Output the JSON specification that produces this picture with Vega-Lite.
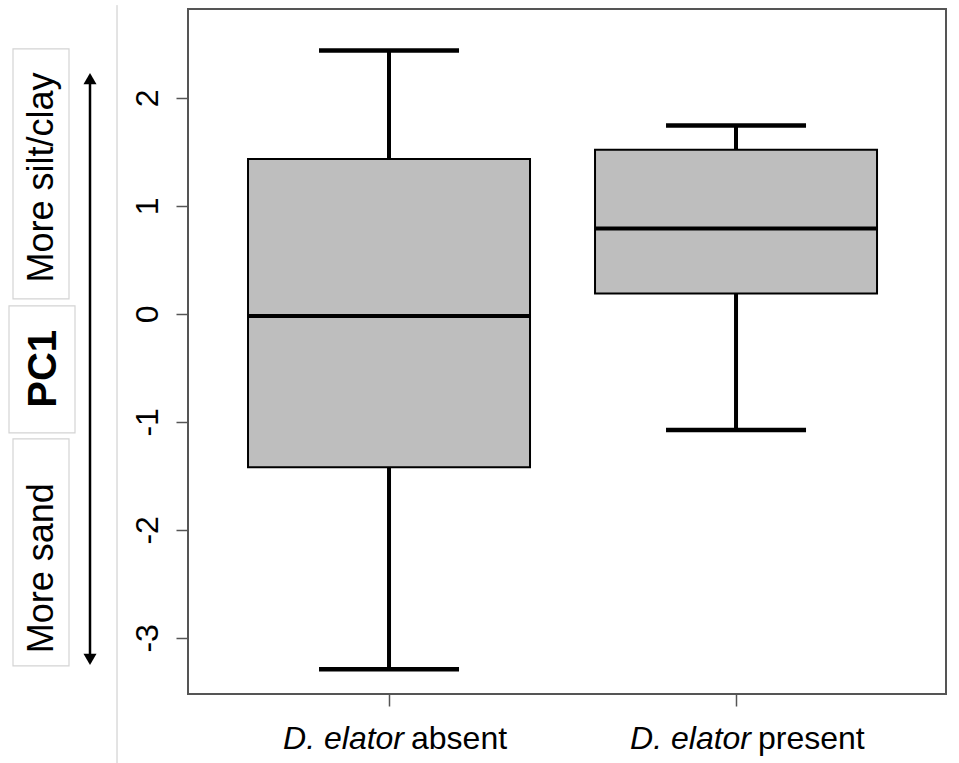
{
  "$schema": "https://vega.github.io/schema/vega-lite/v6.json",
  "background": "white",
  "padding": {"left": 0, "top": 4, "right": 10, "bottom": 0},
  "bounds": "flush",
  "spacing": 70,
  "config": {"font": "Liberation Sans", "view": {"stroke": null}},
  "datasets": {
    "boxes": [
      {"group": "absent", "lower": -3.29, "q1": -1.42, "median": -0.02, "q3": 1.435, "upper": 2.44},
      {"group": "present", "lower": -1.075, "q1": 0.19, "median": 0.79, "q3": 1.52, "upper": 1.745}
    ],
    "notes": [
      {"note": "More silt/clay", "kind": "side", "mid": 1.264, "lo": 0.139, "hi": 2.454},
      {"note": "PC1", "kind": "center", "mid": -0.509, "lo": -1.102, "hi": 0.074},
      {"note": "More sand", "kind": "side", "mid": -2.356, "lo": -3.259, "hi": -1.157}
    ],
    "labels": [
      {"group": "absent", "species": "D. elator", "state": "absent"},
      {"group": "present", "species": "D. elator", "state": "present"}
    ]
  },
  "hconcat": [
    {
      "width": 118,
      "height": 685,
      "view": {"stroke": null},
      "layer": [
        {
          "data": {"values": [{"a": 1}]},
          "mark": {"type": "rule", "color": "#c8c8c8", "strokeWidth": 1},
          "encoding": {
            "x": {"datum": 117, "type": "quantitative", "scale": {"domain": [0, 118], "nice": false, "zero": false}, "axis": null},
            "y": {"datum": 2.86, "type": "quantitative", "scale": {"domain": [-3.52, 2.824], "nice": false, "zero": false}, "axis": null},
            "y2": {"datum": -4.17}
          }
        },
        {
          "data": {"name": "notes"},
          "transform": [{"filter": "datum.kind === 'side'"}],
          "mark": {"type": "rect", "fill": "white", "stroke": "#d4d4d4", "strokeWidth": 1.2},
          "encoding": {
            "x": {"datum": 13, "type": "quantitative"},
            "x2": {"datum": 69},
            "y": {"field": "hi", "type": "quantitative"},
            "y2": {"field": "lo"}
          }
        },
        {
          "data": {"name": "notes"},
          "transform": [{"filter": "datum.kind === 'center'"}],
          "mark": {"type": "rect", "fill": "white", "stroke": "#d4d4d4", "strokeWidth": 1.2},
          "encoding": {
            "x": {"datum": 9, "type": "quantitative"},
            "x2": {"datum": 75},
            "y": {"field": "hi", "type": "quantitative"},
            "y2": {"field": "lo"}
          }
        },
        {
          "data": {"name": "notes"},
          "transform": [{"filter": "datum.kind === 'side'"}],
          "mark": {"type": "text", "angle": 270, "align": "center", "baseline": "middle", "fontSize": 36, "color": "black"},
          "encoding": {
            "x": {"datum": 42, "type": "quantitative"},
            "y": {"field": "mid", "type": "quantitative"},
            "text": {"field": "note"}
          }
        },
        {
          "data": {"name": "notes"},
          "transform": [{"filter": "datum.kind === 'center'"}],
          "mark": {"type": "text", "angle": 270, "align": "center", "baseline": "middle", "fontSize": 40, "fontWeight": "bold", "color": "black"},
          "encoding": {
            "x": {"datum": 44, "type": "quantitative"},
            "y": {"field": "mid", "type": "quantitative"},
            "text": {"field": "note"}
          }
        },
        {
          "data": {"values": [{"a": 1}]},
          "mark": {"type": "rule", "color": "black", "strokeWidth": 2.5},
          "encoding": {
            "x": {"datum": 90, "type": "quantitative"},
            "y": {"datum": 2.15, "type": "quantitative"},
            "y2": {"datum": -3.17}
          }
        },
        {
          "data": {"values": [{"a": 1}]},
          "mark": {"type": "point", "shape": "triangle-up", "filled": true, "color": "black", "size": 170, "opacity": 1},
          "encoding": {
            "x": {"datum": 90, "type": "quantitative"},
            "y": {"datum": 2.18, "type": "quantitative"}
          }
        },
        {
          "data": {"values": [{"a": 1}]},
          "mark": {"type": "point", "shape": "triangle-down", "filled": true, "color": "black", "size": 170, "opacity": 1},
          "encoding": {
            "x": {"datum": 90, "type": "quantitative"},
            "y": {"datum": -3.2, "type": "quantitative"}
          }
        }
      ]
    },
    {
      "width": 758,
      "height": 685,
      "view": {"stroke": "#555555", "strokeWidth": 2},
      "encoding": {
        "x": {
          "field": "group",
          "type": "nominal",
          "sort": ["absent", "present"],
          "scale": {"domain": ["absent", "present"], "paddingInner": 0, "paddingOuter": 0.0922, "align": 0.43},
          "axis": {"title": null, "labels": false, "domain": false, "ticks": true, "tickSize": 12, "tickColor": "#555555", "tickWidth": 1.5, "grid": false}
        }
      },
      "layer": [
        {
          "data": {"name": "boxes"},
          "mark": {"type": "rule", "color": "black", "strokeWidth": 4},
          "encoding": {
            "y": {
              "field": "lower",
              "type": "quantitative",
              "scale": {"domain": [-3.52, 2.824], "nice": false, "zero": false},
              "axis": {"title": null, "values": [-3, -2, -1, 0, 1, 2], "labelExpr": "'' + datum.value", "grid": false, "domain": false, "tickSize": 12, "tickColor": "#555555", "tickWidth": 1.5, "labelAngle": 270, "labelAlign": "center", "labelBaseline": "alphabetic", "labelPadding": 19, "labelFontSize": 32, "labelColor": "black", "labelFont": "Liberation Sans"}
            },
            "y2": {"field": "q1"}
          }
        },
        {
          "data": {"name": "boxes"},
          "mark": {"type": "rule", "color": "black", "strokeWidth": 4},
          "encoding": {
            "y": {"field": "q3", "type": "quantitative"},
            "y2": {"field": "upper"}
          }
        },
        {
          "data": {"name": "boxes"},
          "mark": {"type": "bar", "size": 282, "fill": "#bebebe", "stroke": "black", "strokeWidth": 2},
          "encoding": {
            "y": {"field": "q1", "type": "quantitative"},
            "y2": {"field": "q3"}
          }
        },
        {
          "data": {"name": "boxes"},
          "mark": {"type": "tick", "size": 282, "thickness": 4, "color": "black", "opacity": 1},
          "encoding": {
            "y": {"field": "median", "type": "quantitative"}
          }
        },
        {
          "data": {"name": "boxes"},
          "mark": {"type": "tick", "size": 140, "thickness": 4.5, "color": "black", "opacity": 1},
          "encoding": {
            "y": {"field": "lower", "type": "quantitative"}
          }
        },
        {
          "data": {"name": "boxes"},
          "mark": {"type": "tick", "size": 140, "thickness": 4.5, "color": "black", "opacity": 1},
          "encoding": {
            "y": {"field": "upper", "type": "quantitative"}
          }
        },
        {
          "data": {"name": "labels"},
          "mark": {"type": "text", "align": "right", "baseline": "alphabetic", "dx": 15, "fontSize": 32, "fontStyle": "italic", "color": "black"},
          "encoding": {
            "y": {"datum": -4.03, "type": "quantitative"},
            "text": {"field": "species"}
          }
        },
        {
          "data": {"name": "labels"},
          "mark": {"type": "text", "align": "left", "baseline": "alphabetic", "dx": 22, "fontSize": 32, "color": "black"},
          "encoding": {
            "y": {"datum": -4.03, "type": "quantitative"},
            "text": {"field": "state"}
          }
        }
      ]
    }
  ]
}
